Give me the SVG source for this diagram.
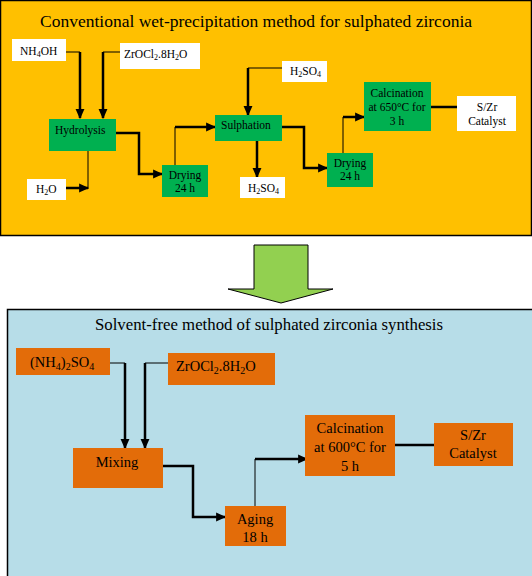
<svg xmlns="http://www.w3.org/2000/svg" width="532" height="576" viewBox="0 0 532 576">
<defs>
<marker id="ah" markerUnits="userSpaceOnUse" markerWidth="10" markerHeight="10" refX="8" refY="4" orient="auto" viewBox="0 0 9 8">
<path d="M0,0 L9,4 L0,8 Z" fill="#000"/>
</marker>
<style>
.t{font-family:"Liberation Serif","Times New Roman",serif;fill:#000}
.s{font-size:11.5px}
.b{font-size:14.5px}
.white{fill:#fff}
.green{fill:#00B050}
.orange{fill:#E36C09}
.thin{fill:none;stroke:#000;stroke-width:1}
.thick{fill:none;stroke:#000;stroke-width:2.5}
</style>
</defs>
<rect width="532" height="576" fill="#fff"/>
<g id="panel-top">
<rect x="0.5" y="0.5" width="531" height="235" fill="#FFC000" stroke="#000" stroke-width="1.5"/>
<text class="t" x="256" y="27" font-size="17.5" text-anchor="middle">Conventional wet-precipitation method for sulphated zirconia</text>
</g>
<g id="panel-bottom">
<rect x="7.5" y="309.5" width="530" height="270" fill="#B7DDE8" stroke="#000" stroke-width="1.5"/>
<text class="t" x="269" y="330" font-size="16.8" text-anchor="middle">Solvent-free method of sulphated zirconia synthesis</text>
</g>
<g id="big-arrow">
<path d="M254,245 H308 V289 H333 L281,303 L228,289 H254 Z" fill="#92D050" stroke="#000" stroke-width="1"/>
</g>
<g id="connectors">
<path class="thin" d="M66,52 H80"/>
<path class="thick" d="M80,52 V118" marker-end="url(#ah)"/>
<path class="thin" d="M120,52 H103"/>
<path class="thick" d="M103,52 V118" marker-end="url(#ah)"/>
<path class="thick" d="M116,133 H139 V174 H162" marker-end="url(#ah)"/>
<path class="thin" d="M88,151 V189"/>
<path class="thick" d="M66,188 H88" marker-end="url(#ah)"/>
<path class="thin" d="M175,165 V127"/>
<path class="thick" d="M175,127 H215" marker-end="url(#ah)"/>
<path class="thin" d="M282,68 H248"/>
<path class="thick" d="M248,68 V115" marker-end="url(#ah)"/>
<path class="thick" d="M257,141 V177" marker-end="url(#ah)"/>
<path class="thick" d="M282,127 H304 V168 H327" marker-end="url(#ah)"/>
<path class="thin" d="M343,153 V117"/>
<path class="thick" d="M343,117 H364" marker-end="url(#ah)"/>
<path class="thick" d="M431,107 H470" marker-end="url(#ah)"/>
<path class="thin" d="M104,363 H125"/>
<path class="thick" d="M125,363 V448" marker-end="url(#ah)"/>
<path class="thin" d="M175,363 H145"/>
<path class="thick" d="M145,363 V448" marker-end="url(#ah)"/>
<path class="thick" d="M163,466 H193 V517 H225" marker-end="url(#ah)"/>
<path class="thin" d="M255,506 V459"/>
<path class="thick" d="M255,459 H307" marker-end="url(#ah)"/>
<path class="thick" d="M395,445 H447" marker-end="url(#ah)"/>
</g>
<g id="nh4oh">
<rect class="white" x="12" y="39" width="54" height="22"/>
<text class="t s" x="20" y="55">NH<tspan font-size="8" dy="2">4</tspan><tspan dy="-2">OH</tspan></text>
</g>
<g id="zrocl2-top">
<rect class="white" x="120" y="43" width="80" height="26"/>
<text class="t s" x="124" y="58">ZrOCl<tspan font-size="8" dy="2">2</tspan><tspan dy="-2">.8H</tspan><tspan font-size="8" dy="2">2</tspan><tspan dy="-2">O</tspan></text>
</g>
<g id="hydrolysis">
<rect class="green" x="49" y="119" width="67" height="32"/>
<text class="t s" x="55" y="134">Hydrolysis</text>
</g>
<g id="h2o">
<rect class="white" x="27" y="179" width="39" height="21"/>
<text class="t s" x="36" y="193">H<tspan font-size="8" dy="2">2</tspan><tspan dy="-2">O</tspan></text>
</g>
<g id="drying1">
<rect class="green" x="162" y="165" width="46" height="32"/>
<text class="t s" x="185" y="179" text-anchor="middle">Drying</text>
<text class="t s" x="185" y="192" text-anchor="middle">24 h</text>
</g>
<g id="h2so4-top">
<rect class="white" x="282" y="61" width="45" height="21"/>
<text class="t s" x="290" y="75">H<tspan font-size="8" dy="2">2</tspan><tspan dy="-2">SO</tspan><tspan font-size="8" dy="2">4</tspan></text>
</g>
<g id="sulphation">
<rect class="green" x="215" y="115" width="67" height="26"/>
<text class="t s" x="221" y="129">Sulphation</text>
</g>
<g id="h2so4-bottom">
<rect class="white" x="240" y="177" width="45" height="21"/>
<text class="t s" x="248" y="192">H<tspan font-size="8" dy="2">2</tspan><tspan dy="-2">SO</tspan><tspan font-size="8" dy="2">4</tspan></text>
</g>
<g id="drying2">
<rect class="green" x="327" y="153" width="46" height="34"/>
<text class="t s" x="350" y="167" text-anchor="middle">Drying</text>
<text class="t s" x="350" y="180" text-anchor="middle">24 h</text>
</g>
<g id="calcination-top">
<rect class="green" x="364" y="82" width="67" height="49"/>
<text class="t s" x="397" y="97" text-anchor="middle">Calcination</text>
<text class="t s" x="397" y="111" text-anchor="middle">at 650°C for</text>
<text class="t s" x="397" y="125" text-anchor="middle">3 h</text>
</g>
<g id="szr-top">
<rect class="white" x="457" y="96" width="59" height="35"/>
<text class="t s" x="487" y="111" text-anchor="middle">S/Zr</text>
<text class="t s" x="487" y="125" text-anchor="middle">Catalyst</text>
</g>
<g id="nh42so4">
<rect class="orange" x="16" y="348" width="94" height="27"/>
<text class="t b" x="30" y="367">(NH<tspan font-size="10" dy="3">4</tspan><tspan dy="-3">)</tspan><tspan font-size="10" dy="3">2</tspan><tspan dy="-3">SO</tspan><tspan font-size="10" dy="3">4</tspan></text>
</g>
<g id="zrocl2-bottom">
<rect class="orange" x="168" y="353" width="107" height="32"/>
<text class="t b" x="176" y="371">ZrOCl<tspan font-size="10" dy="3">2</tspan><tspan dy="-3">.8H</tspan><tspan font-size="10" dy="3">2</tspan><tspan dy="-3">O</tspan></text>
</g>
<g id="mixing">
<rect class="orange" x="73" y="448" width="90" height="40"/>
<text class="t b" x="117" y="467" text-anchor="middle">Mixing</text>
</g>
<g id="aging">
<rect class="orange" x="225" y="506" width="61" height="40"/>
<text class="t b" x="255" y="524" text-anchor="middle">Aging</text>
<text class="t b" x="255" y="542" text-anchor="middle">18 h</text>
</g>
<g id="calcination-bottom">
<rect class="orange" x="305" y="415" width="90" height="61"/>
<text class="t b" x="350" y="433" text-anchor="middle">Calcination</text>
<text class="t b" x="350" y="452" text-anchor="middle">at 600°C for</text>
<text class="t b" x="350" y="471" text-anchor="middle">5 h</text>
</g>
<g id="szr-bottom">
<rect class="orange" x="434" y="423" width="79" height="43"/>
<text class="t b" x="473" y="440" text-anchor="middle">S/Zr</text>
<text class="t b" x="473" y="458" text-anchor="middle">Catalyst</text>
</g>
</svg>
